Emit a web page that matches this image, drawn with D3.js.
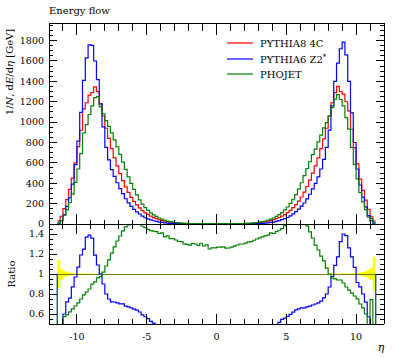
<!DOCTYPE html>
<html><head><meta charset="utf-8">
<script src="https://cdn.jsdelivr.net/npm/d3@7"></script>
<style>body{margin:0;background:#fff}svg{display:block}</style>
</head><body>
<svg id="c" width="397" height="358"></svg>
<script>
// ---------------- data ----------------
const etaMin = -11.4, binStep = 0.2, nBins = 114;
const seriesNames = ["PYTHIA8 4C", "PYTHIA6 Z2*", "PHOJET"];
const seriesColors = ["#ff0000", "#0000ff", "#008000"];
const pythia8_4c = [30,75,150,240,340,450,600,760,920,1130,1190,1265,1290,1345,1300,1180,1060,940,840,740,650,570,495,425,365,310,262,222,188,158,132,110,92,76,63,52,42,34,27,21,17,13,10,8,6.5,5.3,4.4,3.8,3.3,3.0,2.8,2.6,2.5,2.4,2.4,2.3,2.3,
  2.3,2.3,2.4,2.4,2.5,2.6,2.8,3.0,3.3,3.8,4.4,5.3,6.5,8,10,13,17,21,27,34,42,52,64,77,93,111,134,160,190,224,265,312,368,430,500,570,650,740,835,940,1060,1190,1290,1350,1300,1275,1200,1110,930,750,590,440,330,235,145,70,28];
const pythia6_z2 = [9,34,90,173,258,392,582,813,1095,1410,1630,1758,1754,1600,1417,1180,954,752,630,533,468,405,347,298,248,208,173,144,120,98,78,63,51,40,32,25,19,15,11,8.4,6.5,4.8,3.6,2.8,2.2,1.8,1.5,1.3,1.1,1.0,0.9,0.85,0.8,0.75,0.72,0.7,0.7,
  0.7,0.7,0.72,0.75,0.8,0.85,0.9,1.0,1.1,1.3,1.5,1.8,2.2,2.8,3.6,4.8,6.5,8.4,11,15,19,25,33,42,52,64,80,99,122,146,175,206,247,292,345,399,462,540,635,752,922,1160,1400,1580,1720,1785,1660,1400,1090,800,540,383,264,169,83,32,8];
const phojet = [9,34,86,142,211,293,408,540,690,893,976,1075,1160,1240,1250,1150,1080,1015,958,895,826,758,683,608,537,462,398,340,286,237,195,161,133,109,90,74,59,48,37,29,23,17.6,13.4,10.6,8.6,6.9,5.7,4.9,4.3,3.9,3.6,3.4,3.2,3.1,3.0,2.9,2.9,
  2.92,2.92,3.05,3.02,3.15,3.3,3.58,3.87,4.29,4.94,5.76,7.0,8.6,10.7,13.5,17.7,23.3,29,37.5,48,59,74,92,112,138,167,202,243,289,343,405,474,545,611,680,735,806,873,944,996,1060,1142,1226,1269,1222,1160,1044,932,753,585,443,308,218,141,68,52,8];
const refRelErrLeft = [0.14,0.055,0.03,0.022,0.016,0.012,0.01,0.008,0.006,
  0.005,0.004,0.004,0.003,0.003,0.003,0.003,0.001,0.001,0.001,0.001,
  0.001,0.001,0.001,0.001,0.001,0.001,0.001,0.001,0.001,0.001,
  0.001,0.001,0.001,0.001,0.001,0.001,0.001,0.001,0.001,0.001,
  0.001,0.001,0.001,0.001,0.001,0.001,0.001,0.001,0.001,0.001,
  0.001,0.001,0.001,0.001,0.001,0.001,0.001];
const refRelErrRight = [0.001,0.001,0.001,0.001,0.001,0.001,0.001,0.001,0.001,0.001,
  0.001,0.001,0.001,0.001,0.001,0.001,0.001,0.001,0.001,0.001,
  0.001,0.001,0.001,0.001,0.001,0.001,0.001,0.001,0.001,0.001,
  0.001,0.001,0.001,0.001,0.001,0.001,0.001,
  0.001,0.001,0.001,0.003,0.003,0.003,0.003,0.004,0.004,0.005,
  0.006,0.008,0.01,0.012,0.015,0.02,0.03,0.045,0.06,0.17];
const yTickLabels = [0,200,400,600,800,1000,1200,1400,1600,1800];
const ratioTickLabels = [0.6,0.8,1,1.2,1.4];
const xTickLabels = [-10,-5,0,5,10];

// ---------------- layout ----------------
const L = 49, R = 384, T1 = 23.3, B1 = 224, B2 = 324;
const svg = d3.select("#c");
const font = "'DejaVu Serif', 'Liberation Serif', serif";
const edges = d3.range(nBins + 1).map(i => +(etaMin + i * binStep).toFixed(2));
const refRelErr = refRelErrLeft.concat(refRelErrRight).slice(0, nBins);
const x = d3.scaleLinear().domain([-12, 12]).range([L, R]);
const yU = d3.scaleLinear().domain([0, 1970]).range([B1, T1]);
const yR = d3.scaleLinear().domain([0.5, 1.5]).range([B2, B1]);

svg.append("defs").html(
  `<clipPath id="cu"><rect x="${L}" y="${T1}" width="${R-L}" height="${B1-T1}"/></clipPath>
   <clipPath id="cr"><rect x="${L}" y="${B1}" width="${R-L}" height="${B2-B1}"/></clipPath>`);

function histPts(vals) {
  const p = [];
  vals.slice(0, nBins).forEach((v, i) => { p.push([edges[i], v]); p.push([edges[i + 1], v]); });
  return p;
}

// ---------------- upper plot ----------------
const lineU = d3.line().x(d => x(d[0])).y(d => yU(d[1]));
const gU = svg.append("g").attr("clip-path", "url(#cu)");
[pythia8_4c, pythia6_z2, phojet].forEach((s, i) => {
  gU.append("path").attr("d", lineU(histPts(s))).attr("fill", "none")
    .attr("stroke", seriesColors[i]).attr("stroke-width", 1.2);
});

// ---------------- ratio plot ----------------
const gR = svg.append("g").attr("clip-path", "url(#cr)");
const band = d3.area().x(d => x(d[0])).y0(d => yR(1 - d[1])).y1(d => yR(1 + d[1]));
gR.append("path").attr("d", band(histPts(refRelErr))).attr("fill", "#ffff00").attr("stroke", "none");
gR.append("line").attr("x1", x(edges[0])).attr("x2", x(edges[nBins]))
  .attr("y1", yR(1) + 0.5).attr("y2", yR(1) + 0.5).attr("stroke", "#7a7a00").attr("stroke-width", 1.4)
  .attr("shape-rendering", "crispEdges");
const lineR = d3.line().x(d => x(d[0])).y(d => yR(Math.max(0.3, Math.min(1.7, d[1]))));
[pythia6_z2, phojet].forEach((s, i) => {
  const ratio = s.map((v, k) => v / pythia8_4c[k]);
  const pts = [[edges[0], 1], ...histPts(ratio), [edges[nBins], 1]];
  gR.append("path").attr("d", lineR(pts)).attr("fill", "none")
    .attr("stroke", seriesColors[i + 1]).attr("stroke-width", 1.2);
});

// ---------------- frames & ticks ----------------
const ax = svg.append("g").attr("stroke", "#000").attr("stroke-width", 1).attr("shape-rendering", "crispEdges");
function hline(y, x1, x2) { ax.append("line").attr("x1", x1).attr("x2", x2).attr("y1", y).attr("y2", y); }
function vline(xx, y1, y2) { ax.append("line").attr("x1", xx).attr("x2", xx).attr("y1", y1).attr("y2", y2); }
[[T1, B1], [B1, B2]].forEach(([t, b]) => {
  hline(t, L, R); hline(b, L, R); vline(L, t, b); vline(R, t, b);
});
d3.range(-11, 12, 1).forEach(v => {
  const xx = x(v), maj = v % 5 === 0;
  vline(xx, T1, T1 + (maj ? 12 : 8));
  vline(xx, B1, B1 - (maj ? 10 : 4));
  vline(xx, B1, B1 + (maj ? 10 : 5));
  vline(xx, B2, B2 - (maj ? 10 : 5));
});
d3.range(50, 1970, 50).forEach(v => {
  const yy = yU(v), maj = v % 200 === 0;
  hline(yy, L, L + (maj ? 8 : 4)); hline(yy, R, R - (maj ? 8 : 4));
});
d3.range(11, 30, 1).map(k => k * 0.05).forEach(v => {
  const yy = yR(v), maj = Math.abs(v * 5 - Math.round(v * 5)) < 1e-6;
  hline(yy, L, L + (maj ? 8 : 4)); hline(yy, R, R - (maj ? 8 : 4));
});

// ---------------- labels ----------------
const txt = svg.append("g").attr("font-family", font).attr("fill", "#000");
yTickLabels.forEach(v => txt.append("text").attr("x", 44).attr("y", yU(v)).attr("dy", "0.35em")
  .attr("text-anchor", "end").attr("font-size", 9.5).text(v));
ratioTickLabels.forEach(v => txt.append("text").attr("x", 44).attr("y", yR(v)).attr("dy", "0.35em")
  .attr("text-anchor", "end").attr("font-size", 9.5).text(v));
xTickLabels.forEach(v => txt.append("text").attr("x", x(v)).attr("y", 340)
  .attr("text-anchor", "middle").attr("font-size", 9.5).text(v));
txt.append("text").attr("x", L).attr("y", 14).attr("font-size", 10).text("Energy flow");
txt.append("text").attr("x", 381).attr("y", 351).attr("text-anchor", "middle")
  .attr("font-size", 11).attr("font-style", "italic").text("η");
txt.append("text").attr("transform", `translate(15,${(B1 + B2) / 2}) rotate(-90)`)
  .attr("text-anchor", "middle").attr("font-size", 10).text("Ratio");
const yl = txt.append("text").attr("transform", `translate(13,72) rotate(-90)`)
  .attr("text-anchor", "middle").attr("font-size", 10);
yl.append("tspan").text("1/");
yl.append("tspan").attr("font-style", "italic").text("N");
yl.append("tspan").text(", d");
yl.append("tspan").attr("font-style", "italic").text("E");
yl.append("tspan").text("/d");
yl.append("tspan").attr("font-style", "italic").text("η");
yl.append("tspan").text(" [GeV]");

// legend
const legY = [43, 59, 74];
seriesNames.forEach((n, i) => {
  svg.append("line").attr("x1", 227).attr("x2", 253).attr("y1", legY[i]).attr("y2", legY[i])
    .attr("stroke", seriesColors[i]).attr("stroke-width", 1.2);
  const t = txt.append("text").attr("x", 260).attr("y", legY[i] + 3.8).attr("font-size", 10);
  if (n.endsWith("*")) {
    t.append("tspan").text(n.slice(0, -1));
    t.append("tspan").attr("dy", -4).attr("font-size", 7).text("*");
  } else t.text(n);
});
</script>
</body></html>
